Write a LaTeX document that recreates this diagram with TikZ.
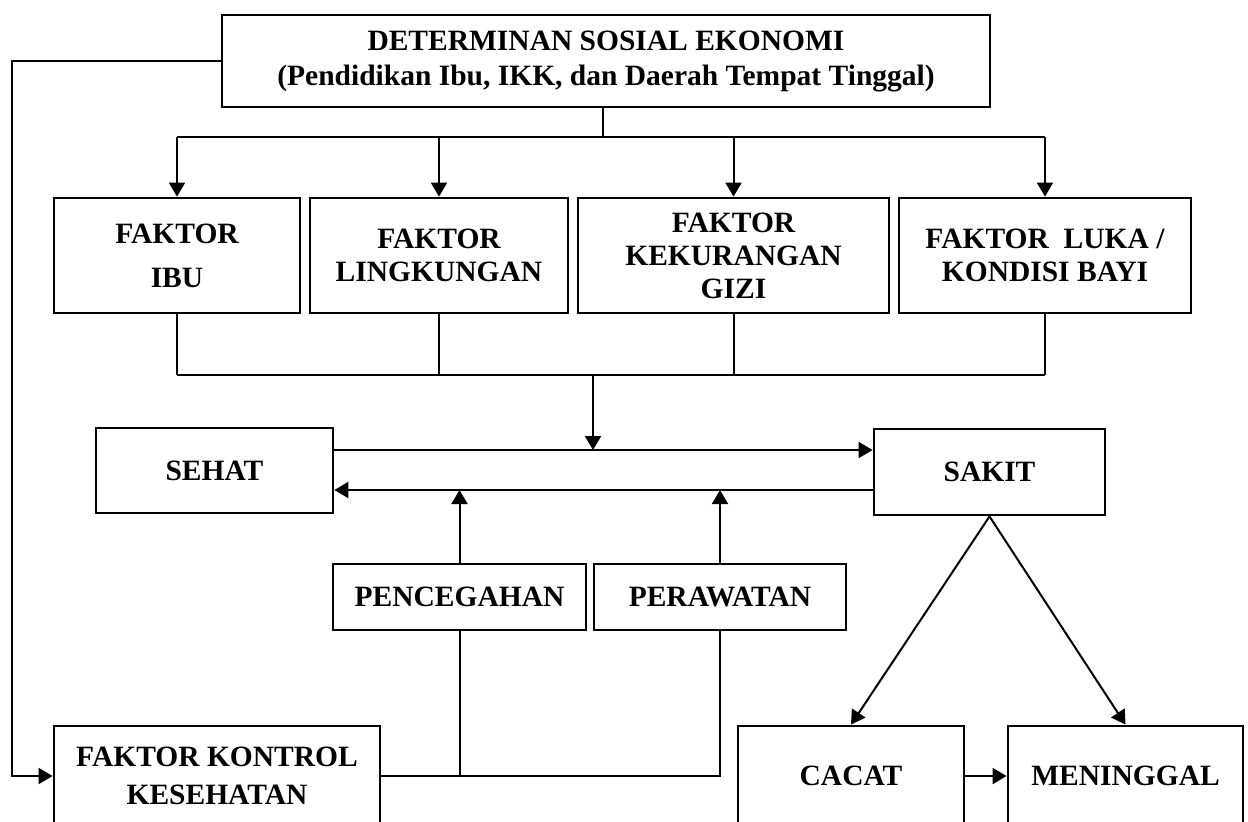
\documentclass[tikz,border=0pt]{standalone}
\usepackage{fontspec}
\setmainfont{Liberation Serif}
\usetikzlibrary{positioning,arrows.meta}

\begin{document}
\begin{tikzpicture}[
  x=0.5pt, y=-0.5pt,
  box/.style={rectangle, draw, line width=1.4pt, inner sep=0pt, align=center,
    font=\bfseries\fontsize{14.75}{16.5}\selectfont},
  arrow/.style={-{Triangle[length=7pt,width=8pt]}, line width=1pt},
  line/.style={line width=1pt},
]
  \useasboundingbox (0,0) rectangle (1248,821);
  \clip (0,0) rectangle (1248,821);

  % top level
  \node[box, minimum width=384pt, minimum height=46pt] (socio) at (606,61)
    {DETERMINAN SOSIAL EKONOMI\\[1pt](Pendidikan Ibu, IKK, dan Daerah Tempat Tinggal)};

  % factors
  \node[box, minimum width=123pt, minimum height=57.5pt] (ibu) at (177,255.5) {FAKTOR\\[5.5pt]IBU};
  \node[box, minimum width=129pt, minimum height=57.5pt] (lingk) at (439,255.5) {FAKTOR\\LINGKUNGAN};
  \node[box, minimum width=155.5pt, minimum height=57.5pt] (gizi) at (733.5,255.5) {FAKTOR\\KEKURANGAN\\GIZI};
  \node[box, minimum width=146pt, minimum height=57.5pt] (luka) at (1045,255.5) {FAKTOR~ LUKA /\\KONDISI BAYI};

  % states
  \node[box, minimum width=118.5pt, minimum height=42.5pt] (sehat) at (214.5,470.5) {SEHAT};
  \node[box, minimum width=115.5pt, minimum height=43pt] (sakit) at (989.5,472) {SAKIT};
  \node[box, minimum width=126.5pt, minimum height=33pt] (cegah) at (459.5,597) {PENCEGAHAN};
  \node[box, minimum width=126pt, minimum height=33pt] (rawat) at (720,597) {PERAWATAN};

  % bottom row
  \node[box, minimum width=163pt, minimum height=50pt] (kontrol) at (217,776) {FAKTOR KONTROL\\[2.5pt]KESEHATAN};
  \node[box, minimum width=113pt, minimum height=50pt] (cacat) at (851,776) {CACAT};
  \node[box, minimum width=117.5pt, minimum height=50pt] (mati) at (1125.5,776) {MENINGGAL};

  \coordinate (rail) at (12,61);
  \coordinate (fan) at (603,137);
  \coordinate (join) at (593,375);
  \coordinate (upper) at (0,450);
  \coordinate (lower) at (0,490);

  \draw[arrow] (socio.west) -- (rail) |- (kontrol.west);

  \draw[line] (fan |- socio.south) -- (fan);
  \draw[line] (ibu.north |- fan) -- (luka.north |- fan);
  \foreach \n in {ibu,lingk,gizi,luka}
    \draw[arrow] (\n.north |- fan) -- (\n.north);

  \foreach \n in {ibu,lingk,gizi,luka}
    \draw[line] (\n.south) -- (\n.south |- join);
  \draw[line] (ibu.south |- join) -- (luka.south |- join);
  \draw[arrow] (join) -- (join |- upper);

  \draw[arrow] (sehat.east |- upper) -- (sakit.west |- upper);
  \draw[arrow] (sakit.west |- lower) -- (sehat.east |- lower);
  \draw[arrow] (cegah.north) -- (cegah.north |- lower);
  \draw[arrow] (rawat.north) -- (rawat.north |- lower);

  \draw[line] (kontrol.east) -- (rawat.south |- kontrol.east) -- (rawat.south);
  \draw[line] (cegah.south) -- (cegah.south |- kontrol.east);

  \draw[arrow] (sakit.south) -- (cacat.north);
  \draw[arrow] (sakit.south) -- (mati.north);
  \draw[arrow] (cacat.east) -- (mati.west);
\end{tikzpicture}
\end{document}
